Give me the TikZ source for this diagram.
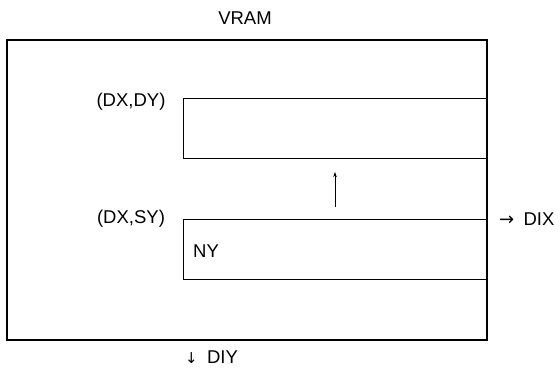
\documentclass[tikz,border=0pt]{standalone}
\usepackage{fontspec}
\setmainfont{Liberation Sans}
\newfontfamily\symfont{DejaVu Sans}
\usetikzlibrary{arrows.meta}
\begin{document}
\begin{tikzpicture}[x=1pt,y=-1pt,
  lbl/.style={inner sep=0pt,font=\fontsize{18.5}{20}\selectfont},
  frame/.style={draw,line width=1.1pt},
  block/.style={draw,line width=0.7pt}]
\useasboundingbox (0,0) rectangle (560,368);
\draw[frame] (7,40) rectangle (487,340);
\draw[block] (487,98) -- (183,98) -- (183,158) -- (487,158);
\draw[block] (487,219) -- (183,219) -- (183,279) -- (487,279);
\coordinate (a0) at (335,207);
\coordinate (a1) at (335,172);
\draw[line width=0.7pt,-{Stealth[length=5pt,width=3.5pt]}] (a0) -- (a1);
\node[lbl] (vram) at (245,18) {VRAM};
\node[lbl] (dxdy) at (131,102) {(DX,DY)};
\node[lbl] (dxsy) at (131,219) {(DX,SY)};
\node[lbl,anchor=west] (ny) at (193,251) {NY};
\node[lbl,anchor=west] (dix) at (499,219) {{\fontsize{18}{16}\selectfont\symfont →}\enspace DIX};
\node[lbl,anchor=west] (diy) at (185,357) {{\fontsize{15}{16}\selectfont\symfont ↓}\enspace DIY};
\end{tikzpicture}
\end{document}
